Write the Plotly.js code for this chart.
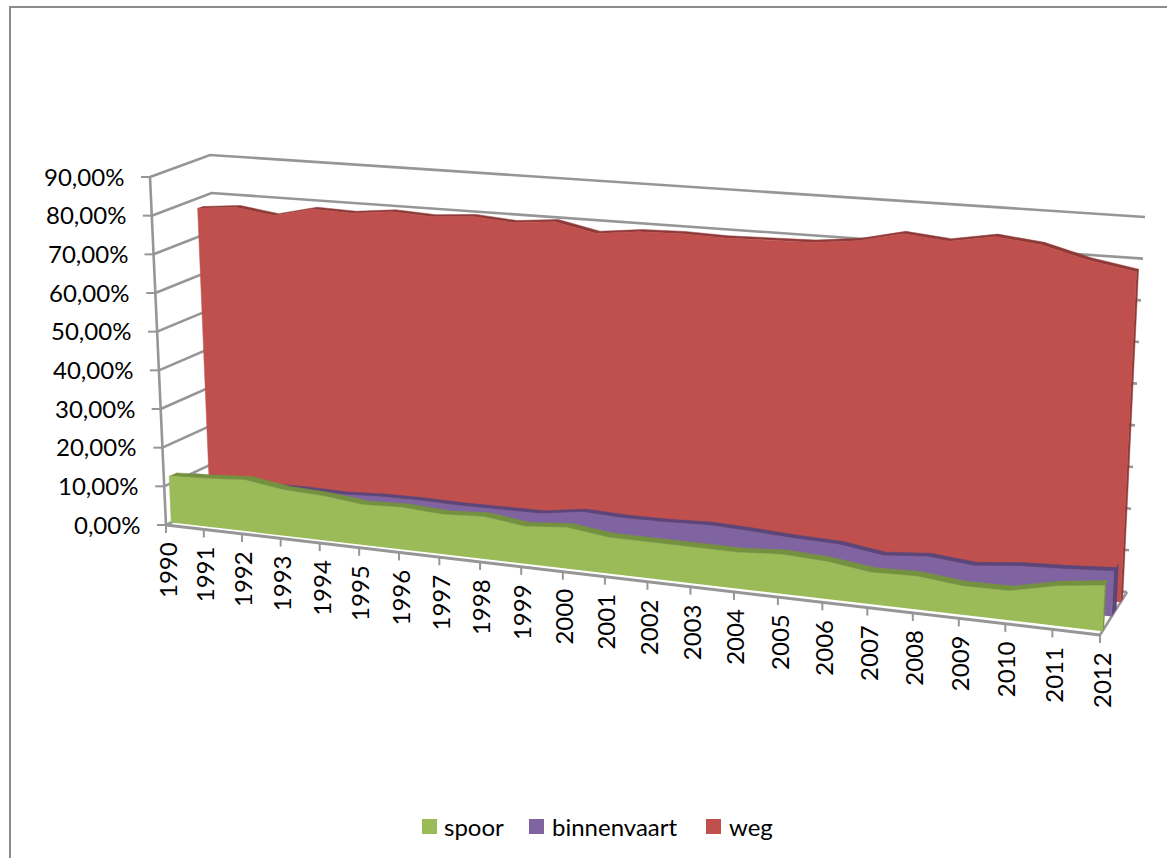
<!DOCTYPE html>
<html>
<head>
<meta charset="utf-8">
<script src="https://cdn.plot.ly/plotly-3.0.1.min.js"></script>
<style>html,body{margin:0;padding:0;background:#fff}#chart{width:1167px;height:858px}</style>
</head>
<body>
<div id="chart"></div>
<script>
// Modal split of freight transport, drawn as an Excel-style 3D area chart.
var years = [1990,1991,1992,1993,1994,1995,1996,1997,1998,1999,2000,2001,2002,2003,2004,2005,2006,2007,2008,2009,2010,2011,2012];
var spoor = [12.0,12.5,13.2,11.7,11.3,10.2,10.6,10.0,10.6,9.3,10.2,8.9,8.9,8.8,8.8,9.5,9.0,7.6,7.9,6.8,6.9,9.3,10.7];
var binnenvaart = [9.6,9.4,9.2,9.3,9.1,9.6,9.7,9.5,9.6,9.7,11.2,10.8,10.9,11.3,10.9,10.3,10.0,8.5,9.4,8.4,9.5,10.0,10.7];
var weg = [77.4,78.4,77.0,79.4,79.1,80.2,79.7,80.5,79.7,80.7,78.5,79.7,80.0,79.7,80.0,80.2,81.4,83.9,82.9,84.8,83.6,80.7,78.8];
var valueTicks = [0,10,20,30,40,50,60,70,80,90];
var valueTickLabels = ["0,00%","10,00%","20,00%","30,00%","40,00%","50,00%","60,00%","70,00%","80,00%","90,00%"];

// Oblique view of the chart box: screen position of each box corner, keyed [year end][value end][depth end].
var BOX = {
  '000':[166,525], '001':[224,497], '010':[150,177], '011':[210,155],
  '100':[1100,635],'101':[1127,592],'110':[1119,250],'111':[1145,217]
};
var YEAR_FORESHORTEN = 1.128, VALUE_MAX = 90;

function project(yearIdx, value, depth) {
  var t = yearIdx / (years.length - 1);
  var u = t / (t + (1 - t) * YEAR_FORESHORTEN);
  var v = value / VALUE_MAX, out = [0, 0];
  [0,1].forEach(function(a){ [0,1].forEach(function(b){ [0,1].forEach(function(c){
    var w = (a ? u : 1-u) * (b ? v : 1-v) * (c ? depth : 1-depth);
    var p = BOX['' + a + b + c];
    out[0] += w * p[0]; out[1] += w * p[1];
  });});});
  return out;
}

function polyTrace(points, color, name) {
  return { type:'scatter', mode:'lines', x:points.map(function(p){return p[0];}), y:points.map(function(p){return p[1];}),
           fill:'toself', fillcolor:color, line:{color:color, width:0.5}, name:name, hoverinfo:'name', showlegend:false };
}
function lineTrace(points, color, width) {
  return { type:'scatter', mode:'lines', x:points.map(function(p){return p[0];}), y:points.map(function(p){return p[1];}),
           line:{color:color, width:width}, hoverinfo:'skip', showlegend:false };
}

// One extruded area: darker top ribbon and end cap, then the front face.
function areaTraces(name, values, dFront, dRibbon, dCap, faceColor, edgeColor) {
  var last = years.length - 1, front = [], back = [];
  values.forEach(function(val, i){ front.push(project(i, val, dFront)); back.push(project(i, val, dRibbon)); });
  var ribbon = front.concat(back.slice().reverse());
  var cap = [project(last,0,dFront), project(last,values[last],dFront), project(last,values[last],dCap), project(last,0,dCap)];
  var face = [project(0,0,dFront)].concat(front, [project(last,0,dFront)]);
  return [polyTrace(cap, edgeColor, name+' zijkant'), polyTrace(ribbon, edgeColor, name+' bovenkant'), polyTrace(face, faceColor, name)];
}

var GRID = '#969696', traces = [], annotations = [];

// Gridlines on the side wall and the back wall.
valueTicks.forEach(function(val){
  traces.push(lineTrace([project(0,val,0), project(0,val,1), project(years.length-1,val,1)], GRID, 2.6));
});
traces.push(lineTrace([project(years.length-1,0,0), project(years.length-1,0,1)], GRID, 2.6));

traces = traces.concat(areaTraces('weg', weg, 0.76, 0.84, 0.84, '#C0504D', '#8F3A38'));
traces = traces.concat(areaTraces('binnenvaart', binnenvaart, 0.43, 0.52, 0.60, '#8064A2', '#5C4679'));
traces = traces.concat(areaTraces('spoor', spoor, 0.09, 0.21, 0.14, '#9BBB59', '#74913F'));

// Value axis with outward ticks and labels.
traces.push(lineTrace([project(0,0,0), project(0,VALUE_MAX,0)], GRID, 2.6));
valueTicks.forEach(function(val, i){
  var p = project(0,val,0);
  traces.push(lineTrace([[p[0]-9,p[1]], p], GRID, 2));
  annotations.push({ xref:'x', yref:'y', x:p[0]-24, y:p[1]-1, text:valueTickLabels[i], showarrow:false, xanchor:'right', yanchor:'middle',
                     font:{family:'Lato', size:24, color:'#000'} });
});

// Year axis along the front of the floor.
traces.push(lineTrace([project(0,0,0), project(years.length-1,0,0)], GRID, 3));
years.forEach(function(yr, i){
  var p = project(i,0,0);
  traces.push(lineTrace([p, [p[0], p[1]+8]], GRID, 2));
  annotations.push({ xref:'x', yref:'y', x:p[0]+1, y:p[1]+15, text:String(yr), showarrow:false, textangle:-90, xanchor:'center', yanchor:'top',
                     font:{family:'Lato', size:24, color:'#000'} });
});

// Legend row.
var legendItems = [
  {label:'spoor', color:'#9BBB59', keyX:429.5, textX:442},
  {label:'binnenvaart', color:'#8064A2', keyX:536.5, textX:550},
  {label:'weg', color:'#C0504D', keyX:713.5, textX:727}
];
var LEGEND_Y = 826.5;
traces.push({ type:'scatter', mode:'markers', x:legendItems.map(function(l){return l.keyX;}), y:legendItems.map(function(){return LEGEND_Y;}),
  marker:{symbol:'square', size:15, color:legendItems.map(function(l){return l.color;})}, hoverinfo:'skip', showlegend:false });
legendItems.forEach(function(l){
  annotations.push({ xref:'x', yref:'y', x:l.textX, y:LEGEND_Y, text:l.label, showarrow:false, xanchor:'left', yanchor:'middle',
                     font:{family:'Lato', size:24, color:'#000'} });
});

var FRAME = '#8c8c8c';
var layout = {
  width:1167, height:858, margin:{l:0,r:0,t:0,b:0}, paper_bgcolor:'#fff', plot_bgcolor:'#fff', showlegend:false,
  xaxis:{range:[0,1167], visible:false, fixedrange:true},
  yaxis:{range:[858,0], visible:false, fixedrange:true},
  annotations:annotations,
  shapes:[
    {type:'line', xref:'x', yref:'y', x0:9, y0:7, x1:1167, y1:7, line:{color:FRAME, width:2}, layer:'below'},
    {type:'line', xref:'x', yref:'y', x0:10, y0:6, x1:10, y1:858, line:{color:FRAME, width:2}, layer:'below'}
  ]
};
Plotly.newPlot('chart', traces, layout, {displayModeBar:false, staticPlot:true});
</script>
</body>
</html>
